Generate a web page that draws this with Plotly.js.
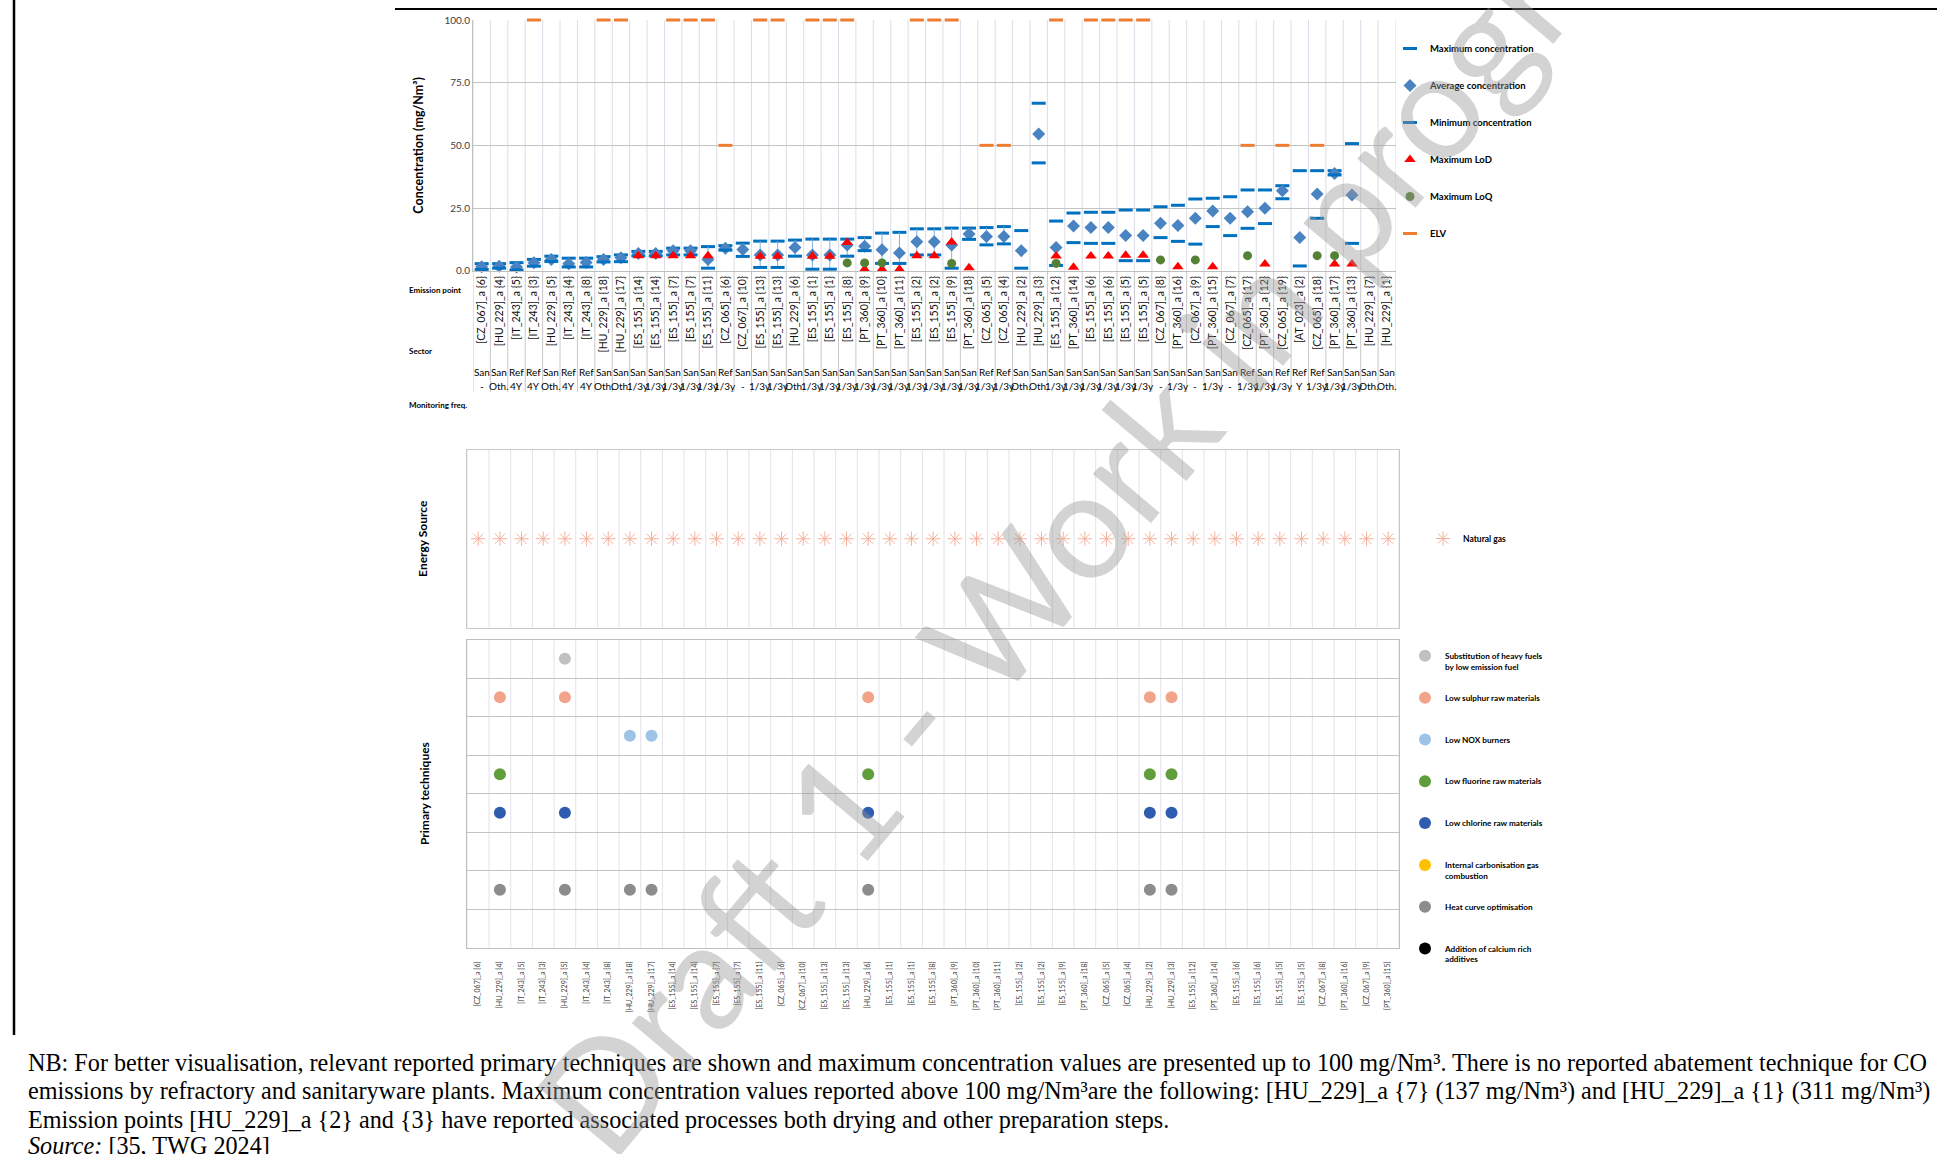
<!DOCTYPE html>
<html><head><meta charset="utf-8">
<script src="https://cdn.plot.ly/plotly-3.0.1.min.js"></script>
<style>html,body{margin:0;padding:0;background:#fff;}#chart{width:1937px;height:1154px;}</style>
</head><body><div id="chart"></div>
<script>
// ---------- DATA ----------
const emissionPoints = ["[CZ_067]_a {6}","[HU_229]_a {4}","[IT_243]_a {5}","[IT_243]_a {3}","[HU_229]_a {5}","[IT_243]_a {4}","[IT_243]_a {8}","[HU_229]_a {18}","[HU_229]_a {17}","[ES_155]_a {14}","[ES_155]_a {14}","[ES_155]_a {7}","[ES_155]_a {7}","[ES_155]_a {11}","[CZ_065]_a {6}","[CZ_067]_a {10}","[ES_155]_a {13}","[ES_155]_a {13}","[HU_229]_a {6}","[ES_155]_a {1}","[ES_155]_a {1}","[ES_155]_a {8}","[PT_360]_a {9}","[PT_360]_a {10}","[PT_360]_a {11}","[ES_155]_a {2}","[ES_155]_a {2}","[ES_155]_a {9}","[PT_360]_a {18}","[CZ_065]_a {5}","[CZ_065]_a {4}","[HU_229]_a {2}","[HU_229]_a {3}","[ES_155]_a {12}","[PT_360]_a {14}","[ES_155]_a {6}","[ES_155]_a {6}","[ES_155]_a {5}","[ES_155]_a {5}","[CZ_067]_a {8}","[PT_360]_a {16}","[CZ_067]_a {9}","[PT_360]_a {15}","[CZ_067]_a {7}","[CZ_065]_a {17}","[PT_360]_a {12}","[CZ_065]_a {19}","[AT_023]_a {2}","[CZ_065]_a {18}","[PT_360]_a {17}","[PT_360]_a {13}","[HU_229]_a {7}","[HU_229]_a {1}"];
const sectors = ["San","San","Ref","Ref","San","Ref","Ref","San","San","San","San","San","San","San","Ref","San","San","San","San","San","San","San","San","San","San","San","San","San","San","Ref","Ref","San","San","San","San","San","San","San","San","San","San","San","San","San","Ref","San","Ref","Ref","Ref","San","San","San","San"];
const monitoringFreq = ["-","Oth.","4Y","4Y","Oth.","4Y","4Y","Oth.","Oth.","1/3y","1/3y","1/3y","1/3y","1/3y","1/3y","-","1/3y","1/3y","Oth.","1/3y","1/3y","1/3y","1/3y","1/3y","1/3y","1/3y","1/3y","1/3y","1/3y","1/3y","1/3y","Oth.","Oth.","1/3y","1/3y","1/3y","1/3y","1/3y","1/3y","-","1/3y","-","1/3y","-","1/3y","1/3y","1/3y","Y","1/3y","1/3y","1/3y","Oth.","Oth."];
const maxConc = [2.8,2.8,3.2,4.5,5.8,5.0,5.0,5.6,6.3,7.7,7.7,9.0,9.0,9.6,10.0,11.0,11.8,11.8,12.2,12.6,12.6,12.6,13.2,15.0,15.3,16.7,16.7,17.0,17.0,17.2,17.6,16.0,66.8,19.8,23.0,23.3,23.3,24.2,24.2,25.5,26.1,28.6,28.9,29.5,32.2,32.2,33.9,39.9,39.9,39.9,50.7,null,null];
const avgConc = [1.6,1.8,1.5,3.2,4.5,2.8,3.3,4.5,5.2,6.9,6.9,8.0,8.0,4.5,9.0,8.5,6.3,6.3,9.3,6.3,6.3,10.3,9.8,8.4,7.1,11.5,11.5,10.3,14.6,13.6,13.6,8.0,54.5,9.3,17.8,17.2,17.2,14.0,14.0,18.9,18.0,20.9,23.8,20.9,23.5,24.9,31.9,13.2,30.6,38.8,30.2,null,null];
const minConc = [0.5,1.0,0.3,1.8,3.7,1.5,1.5,3.5,3.6,5.9,5.9,6.3,6.3,1.0,8.2,5.7,1.3,1.3,5.8,0.6,0.6,5.8,8.0,2.9,2.9,6.3,6.3,1.0,12.5,10.3,10.7,1.0,43.0,2.1,11.2,10.9,10.9,4.0,4.0,13.2,11.7,10.6,17.6,14.0,16.9,18.8,28.7,1.9,20.9,38.2,10.9,null,null];
const maxLoD = [null,null,null,null,null,null,null,null,null,6.0,6.0,6.0,6.0,6.0,null,null,5.8,5.8,null,5.8,5.8,11.2,0.6,0.6,0.6,6.0,6.0,11.4,1.2,null,null,null,null,5.9,1.4,5.9,5.9,6.2,6.2,null,1.6,null,1.6,null,null,2.7,null,null,null,2.7,2.7,null,null];
const maxLoQ = [null,null,null,null,null,null,null,null,null,null,null,null,null,null,null,null,null,null,null,null,null,3.1,3.1,3.1,null,null,null,2.9,null,null,null,null,null,2.9,null,null,null,null,null,4.3,null,4.3,null,null,6.0,null,null,null,6.0,6.0,null,null,null];
const elv = [null,null,null,100,null,null,null,100,100,null,null,100,100,100,50,null,100,100,null,100,100,100,null,null,null,100,100,100,null,50,50,null,null,100,null,100,100,100,100,null,null,null,null,null,50,null,50,null,50,null,null,null,null];
const rangeShown = [1,1,1,1,1,1,1,1,1,1,1,1,1,1,1,1,1,1,1,1,1,1,1,1,1,1,1,1,1,1,1,0,0,0,0,0,0,0,0,0,0,0,0,0,0,0,0,0,0,0,0,0,0];

const techniquePoints = emissionPoints.slice(0, 43);
const energySource = ["Natural gas","Natural gas","Natural gas","Natural gas","Natural gas","Natural gas","Natural gas","Natural gas","Natural gas","Natural gas","Natural gas","Natural gas","Natural gas","Natural gas","Natural gas","Natural gas","Natural gas","Natural gas","Natural gas","Natural gas","Natural gas","Natural gas","Natural gas","Natural gas","Natural gas","Natural gas","Natural gas","Natural gas","Natural gas","Natural gas","Natural gas","Natural gas","Natural gas","Natural gas","Natural gas","Natural gas","Natural gas","Natural gas","Natural gas","Natural gas","Natural gas","Natural gas","Natural gas"];
const techniqueNames = ["Substitution of heavy fuels<br>by low emission fuel","Low sulphur raw materials","Low NOX burners","Low fluorine raw materials","Low chlorine raw materials","Internal carbonisation gas<br>combustion","Heat curve optimisation","Addition of calcium rich<br>additives"];
const techSubstitution = [0,0,0,0,1,0,0,0,0,0,0,0,0,0,0,0,0,0,0,0,0,0,0,0,0,0,0,0,0,0,0,0,0,0,0,0,0,0,0,0,0,0,0];
const techLowSulphur   = [0,1,0,0,1,0,0,0,0,0,0,0,0,0,0,0,0,0,1,0,0,0,0,0,0,0,0,0,0,0,0,1,1,0,0,0,0,0,0,0,0,0,0];
const techLowNOx       = [0,0,0,0,0,0,0,1,1,0,0,0,0,0,0,0,0,0,0,0,0,0,0,0,0,0,0,0,0,0,0,0,0,0,0,0,0,0,0,0,0,0,0];
const techLowFluorine  = [0,1,0,0,0,0,0,0,0,0,0,0,0,0,0,0,0,0,1,0,0,0,0,0,0,0,0,0,0,0,0,1,1,0,0,0,0,0,0,0,0,0,0];
const techLowChlorine  = [0,1,0,0,1,0,0,0,0,0,0,0,0,0,0,0,0,0,1,0,0,0,0,0,0,0,0,0,0,0,0,1,1,0,0,0,0,0,0,0,0,0,0];
const techInternalGas  = [0,0,0,0,0,0,0,0,0,0,0,0,0,0,0,0,0,0,0,0,0,0,0,0,0,0,0,0,0,0,0,0,0,0,0,0,0,0,0,0,0,0,0];
const techHeatCurve    = [0,1,0,0,1,0,0,1,1,0,0,0,0,0,0,0,0,0,1,0,0,0,0,0,0,0,0,0,0,0,0,1,1,0,0,0,0,0,0,0,0,0,0];
const techCalcium      = [0,0,0,0,0,0,0,0,0,0,0,0,0,0,0,0,0,0,0,0,0,0,0,0,0,0,0,0,0,0,0,0,0,0,0,0,0,0,0,0,0,0,0];
const techniqueFlags = [techSubstitution, techLowSulphur, techLowNOx, techLowFluorine, techLowChlorine, techInternalGas, techHeatCurve, techCalcium];
const techniqueColors = ["#c0c0c0","#f2a48a","#9dc3e6","#5f9e3a","#2f5cae","#ffc000","#8c8c8c","#000000"];

const noteLines = [
 "NB: For better visualisation, relevant reported primary techniques are shown and maximum concentration values are presented up to 100 mg/Nm³. There is no reported abatement technique for CO",
 "emissions by refractory and sanitaryware plants. Maximum concentration values reported above 100 mg/Nm³are the following: [HU_229]_a {7} (137 mg/Nm³) and [HU_229]_a {1} (311 mg/Nm³)",
 "Emission points [HU_229]_a {2} and {3} have reported associated processes both drying and other preparation steps.",
 "<i>Source:</i> [35, TWG 2024]"
];
const watermarkText = "Draft 1 - Work in progress";

// ---------- LAYOUT HELPERS ----------
const W = 1937, H = 1154;
const px = v => v / W;
const py = v => 1 - v / H;
const FONT = 'Lato, "Open Sans", "DejaVu Sans", sans-serif';

const idx = emissionPoints.map((_, i) => i);
const idxB = techniquePoints.map((_, i) => i);
const errPlus = avgConc.map((a, i) => (rangeShown[i] && a != null) ? maxConc[i] - a : 0);
const errMinus = avgConc.map((a, i) => (rangeShown[i] && a != null) ? a - minConc[i] : 0);

const traces = [];
let g = 0;
function topTrace(name, y, marker, extra) {
  g++;
  return Object.assign({type:'scatter', mode:'markers', x: idx, y: y, name: name, marker: marker,
    xaxis:'x', yaxis:'y', legend:'legend', legendgroup:'t'+g, cliponaxis:false, hoverinfo:'skip'}, extra || {});
}
traces.push(topTrace('Maximum concentration', maxConc, {symbol:'line-ew', size:10, color:'#0070c0', line:{width:3, color:'#0070c0'}}));
traces.push(topTrace('Average concentration', avgConc, {symbol:'diamond', size:10, color:'#4a83c2', line:{width:0}},
  {error_y:{type:'data', symmetric:false, array: errPlus, arrayminus: errMinus, color:'#7fb1e3', thickness:1, width:0}}));
traces.push(topTrace('Minimum concentration', minConc, {symbol:'line-ew', size:10, color:'#0070c0', line:{width:3, color:'#0070c0'}}));
traces.push(topTrace('Maximum LoD', maxLoD, {symbol:'triangle-up', size:10, color:'#ff0000', line:{width:0}}));
traces.push(topTrace('Maximum LoQ', maxLoQ, {symbol:'circle', size:9, color:'#548235', line:{width:0}}));
traces.push(topTrace('ELV', elv, {symbol:'line-ew', size:10, color:'#ed7d31', line:{width:3, color:'#ed7d31'}}));

traces.push({type:'scatter', mode:'markers', x: idxB, y: energySource, name:'Natural gas',
  xaxis:'x3', yaxis:'y2', legend:'legend2', hoverinfo:'skip',
  marker:{symbol:'asterisk-open', size:12, color:'#f4b09a', line:{width:1, color:'#f4a58a'}}});

techniqueNames.forEach((nm, r) => {
  traces.push({type:'scatter', mode:'markers', x: idxB, y: techniqueFlags[r].map(f => f ? r : null),
    name: nm.indexOf('<br>') >= 0 ? nm : nm + '<br>\u00a0',
    xaxis:'x2', yaxis:'y3', legend:'legend3', legendgroup:'p'+r, hoverinfo:'skip', showlegend:true,
    marker:{symbol:'circle', size:12, color: techniqueColors[r], line:{width:0}}});
});

// ---------- SHAPES ----------
const shapes = [];
for (let b = 0; b <= emissionPoints.length; b++) {
  shapes.push({type:'line', xref:'x', yref:'paper', x0:b-0.5, x1:b-0.5, y0:py(270.7), y1:py(20), line:{color:'#dcdde8', width:1}, layer:'below'});
  shapes.push({type:'line', xref:'x', yref:'paper', x0:b-0.5, x1:b-0.5, y0:py(392), y1:py(270.7), line:{color:'#c8c8c8', width:1}, layer:'below'});
}
for (let b = 0; b <= techniquePoints.length; b++) {
  shapes.push({type:'line', xref:'x2', yref:'paper', x0:b-0.5, x1:b-0.5, y0:py(627.5), y1:py(450), line:{color:'#e2e2ea', width:1}, layer:'below'});
  shapes.push({type:'line', xref:'x2', yref:'paper', x0:b-0.5, x1:b-0.5, y0:py(947.6), y1:py(639.5), line:{color:'#e2e2ea', width:1}, layer:'below'});
}
// page frame
shapes.push({type:'line', xref:'paper', yref:'paper', x0:px(14), x1:px(14), y0:py(1035), y1:1, line:{color:'#000', width:2.5}});
shapes.push({type:'line', xref:'paper', yref:'paper', x0:px(395), x1:1, y0:py(9), y1:py(9), line:{color:'#000', width:2}});

// ---------- ANNOTATIONS ----------
const annotations = [];
idx.forEach(i => {
  annotations.push({xref:'x', yref:'paper', x:i, y:py(364), text:sectors[i], showarrow:false, font:{size:10, color:'#000'}});
  annotations.push({xref:'x', yref:'paper', x:i, y:py(386), text:monitoringFreq[i], showarrow:false, font:{size:10, color:'#000'}});
});
annotations.push({xref:'paper', yref:'paper', x:px(407), y:py(283), xanchor:'left', text:'Emission point', showarrow:false, font:{size:8, weight:'bold'}});
annotations.push({xref:'paper', yref:'paper', x:px(407), y:py(344), xanchor:'left', text:'Sector', showarrow:false, font:{size:8, weight:'bold'}});
annotations.push({xref:'paper', yref:'paper', x:px(407), y:py(405), xanchor:'left', text:'Monitoring freq.', showarrow:false, font:{size:8, weight:'bold'}});
const noteY = [1062, 1090.5, 1119, 1145];
noteLines.forEach((t, k) => {
  annotations.push({xref:'paper', yref:'paper', x:px(26), y:py(noteY[k]), xanchor:'left', yanchor:'middle', align:'left',
    text: t, showarrow:false, font:{family:'"Liberation Serif", "Times New Roman", serif', size:24.2, color:'#000'}});
});
annotations.push({xref:'paper', yref:'paper', x:px(1118), y:py(472), text: watermarkText, textangle:-50,
  showarrow:false, font:{family: FONT, size:150, color:'rgba(150,150,150,0.42)'}});

const layout = {
  width: W, height: H, autosize:false,
  margin:{l:0, r:0, t:0, b:0},
  paper_bgcolor:'#ffffff', plot_bgcolor:'rgba(0,0,0,0)',
  font:{family: FONT, color:'#000'},
  showlegend:true,
  xaxis:{domain:[px(473), px(1395.5)], anchor:'y', range:[-0.5, emissionPoints.length - 0.5],
    tickmode:'array', tickvals: idx, ticktext: emissionPoints, tickangle:-90, tickfont:{size:10.5, color:'#111'},
    showgrid:false, zeroline:false, showline:true, linecolor:'#bfbfbf', ticks:'', automargin:false, fixedrange:true},
  yaxis:{domain:[py(270.7), py(20)], anchor:'x', range:[0, 100], tick0:0, dtick:25, tickformat:'.1f',
    gridcolor:'#c4c4c4', zeroline:false, showline:true, linecolor:'#bfbfbf', ticks:'',
    tickfont:{size:10, color:'#404040'}, automargin:false,
    title:{text:'Concentration (mg/Nm³)', font:{size:12.5, weight:'bold', color:'#000'}, standoff:18}},
  xaxis3:{domain:[px(467.4), px(1399)], anchor:'y2', range:[-0.5, techniquePoints.length - 0.5],
    showticklabels:false, showgrid:false, zeroline:false, showline:true, mirror:true, linecolor:'#c8c8c8', ticks:'', automargin:false},
  yaxis2:{domain:[py(627.5), py(450)], anchor:'x3', type:'category', range:[-1, 1],
    showticklabels:false, showgrid:false, zeroline:false, showline:true, mirror:true, linecolor:'#c8c8c8', ticks:'', automargin:false,
    title:{text:'Energy Source', font:{size:12, weight:'bold', color:'#000'}, standoff:36}},
  xaxis2:{domain:[px(467.4), px(1399)], anchor:'y3', range:[-0.5, techniquePoints.length - 0.5],
    tickmode:'array', tickvals: idxB, ticktext: techniquePoints, tickangle:-90, tickfont:{size:7, color:'#404040'},
    ticklabelstandoff:10,
    showgrid:false, zeroline:false, showline:true, mirror:true, linecolor:'#bfbfbf', ticks:'', automargin:false},
  yaxis3:{domain:[py(947.6), py(639.5)], anchor:'x2', range:[techniqueNames.length - 0.5, -0.5],
    tickmode:'linear', tick0:-0.5, dtick:1, showticklabels:false, showgrid:true, gridcolor:'#c4c4c4',
    zeroline:false, showline:true, mirror:true, linecolor:'#bfbfbf', ticks:'', automargin:false,
    title:{text:'Primary techniques', font:{size:12, weight:'bold', color:'#000'}, standoff:34}},
  legend:{x:px(1390), y:py(34), xanchor:'left', yanchor:'top', bgcolor:'rgba(0,0,0,0)',
    font:{size:9.5, weight:'bold', color:'#000'}, tracegroupgap:18},
  legend2:{x:px(1423), y:py(524), xanchor:'left', yanchor:'top', bgcolor:'rgba(0,0,0,0)',
    font:{size:8.5, weight:'bold', color:'#000'}},
  legend3:{x:px(1405), y:py(644), xanchor:'left', yanchor:'top', bgcolor:'rgba(0,0,0,0)', valign:'top',
    font:{size:8.2, weight:'bold', color:'#000'}, tracegroupgap:17.5},
  shapes: shapes,
  annotations: annotations
};

Plotly.newPlot('chart', traces, layout, {staticPlot:true, displayModeBar:false});
</script>
</body></html>
